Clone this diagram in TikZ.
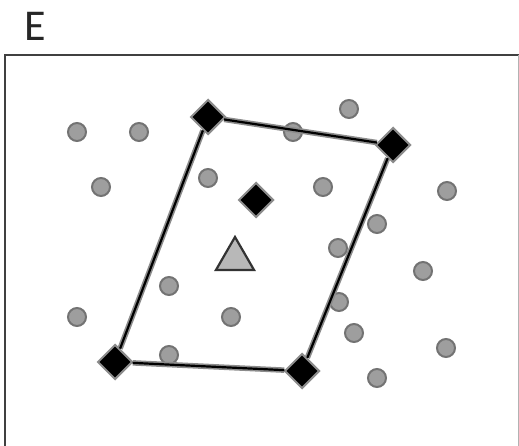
\documentclass[tikz,border=0pt]{standalone}
\usepackage{fontspec}
\setmainfont{Carlito}
\usetikzlibrary{shapes.geometric}
\tikzset{
  pt/.style={circle, fill=black!38, draw=black!55, line width=2pt, minimum size=18pt, inner sep=0pt},
  corner/.style={diamond, fill=black, draw=black!45, line width=2pt, minimum size=35pt, inner sep=0pt},
  hull/.style={black, line width=2.2pt, preaction={draw, black!45, line width=5.5pt}},
  mean/.style={regular polygon, regular polygon sides=3, fill=black!28, draw=black!80, line width=2.2pt, minimum size=44pt, inner sep=0pt}
}
\begin{document}
\begin{tikzpicture}[x=1pt, y=-1pt]
\useasboundingbox (0,0) rectangle (519,446);
% Panel letter
\node[font=\fontsize{44}{44}\selectfont, text=black!85] (title) at (35,26) {E};
% Frame (open at the bottom)
\draw[black!75, line width=2pt] (5,446) -- (5,55) -- (519,55);
\draw[black!30, line width=1pt] (518,55) -- (518,446);
% Sample points
\foreach \x/\y [count=\i] in {77/132, 139/132, 293/132, 349/109, 101/187, 208/178,
  323/187, 447/191, 377/224, 338/248, 423/271, 169/286, 77/317, 231/317,
  339/302, 354/333, 446/348, 169/355, 377/378} {
  \node[pt] (p\i) at (\x,\y) {};
}
% Corners of the box
\node[corner] (tl) at (208,117) {};
\node[corner] (tr) at (393,145) {};
\node[corner] (br) at (302,371) {};
\node[corner] (bl) at (115,362) {};
% Box edges
\draw[hull] (tl) -- (tr);
\draw[hull] (tr) -- (br);
\draw[hull] (br) -- (bl);
\draw[hull] (bl) -- (tl);
% Centre and mean
\node[corner] (ctr) at (256,200) {};
\node[mean] (avg) at (235,259) {};
\end{tikzpicture}
\end{document}
